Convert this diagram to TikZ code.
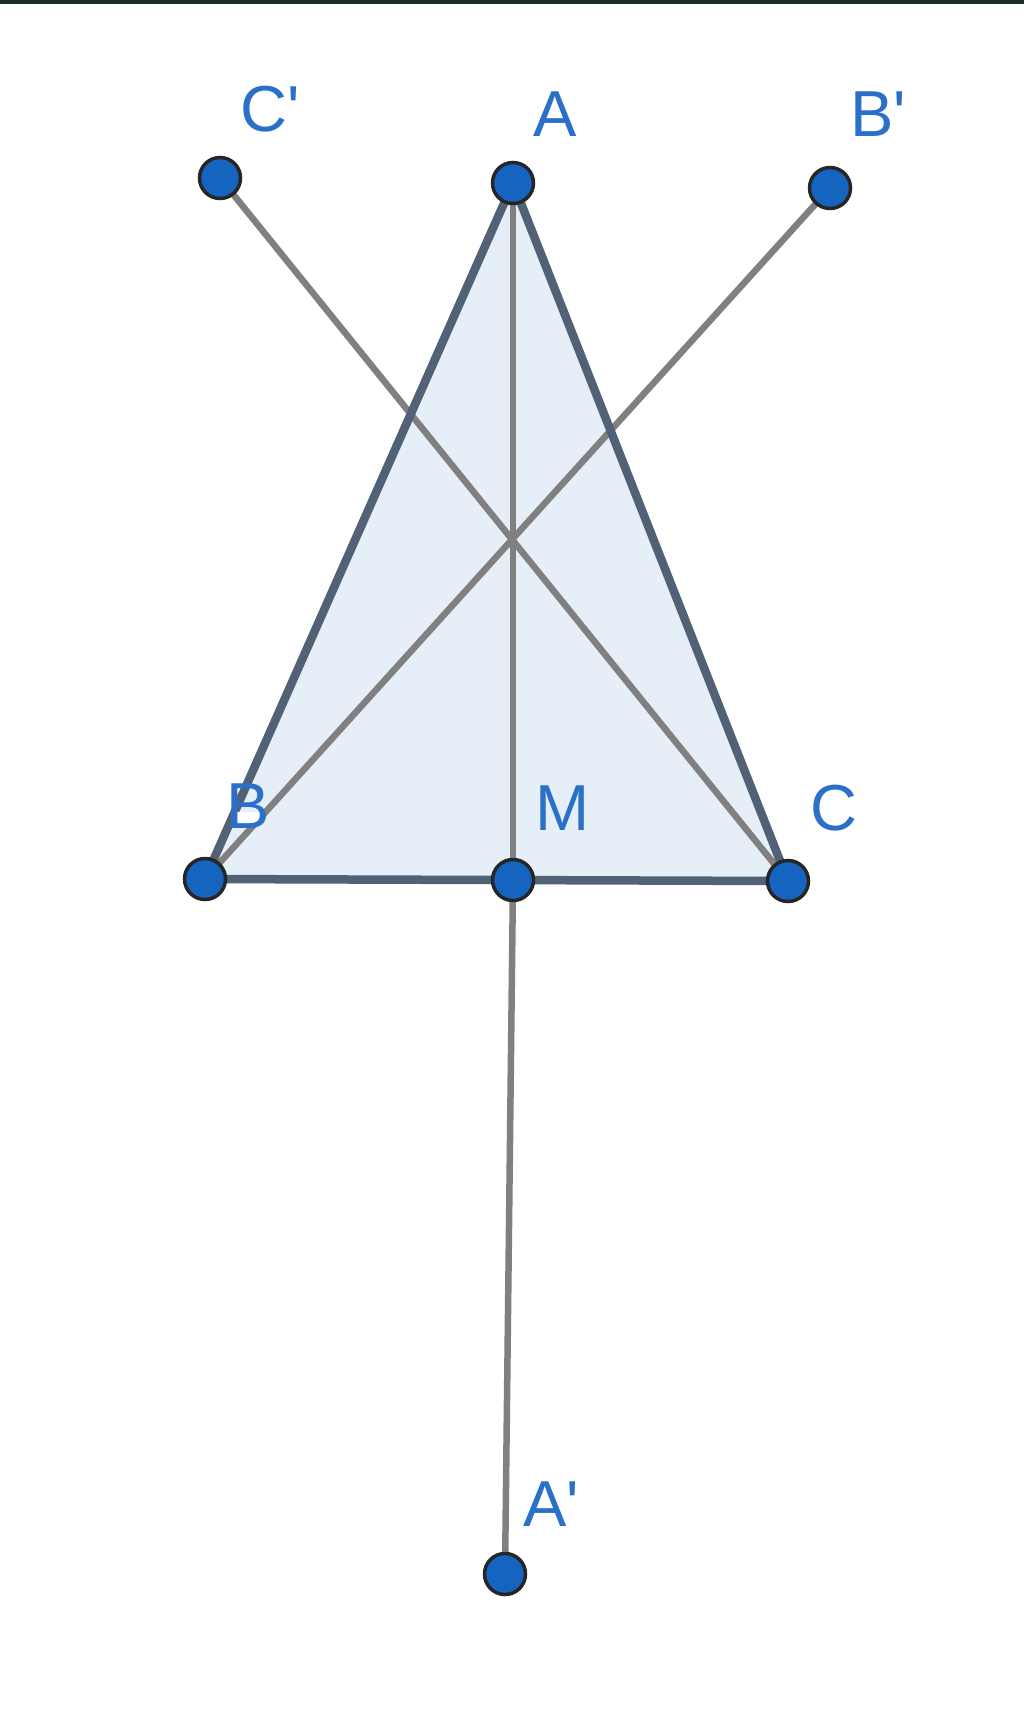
\documentclass[tikz,border=0pt]{standalone}
\usepackage{fontspec}
\newfontfamily\lblfont{Liberation Sans}
\definecolor{ptblue}{RGB}{21,101,192}
\definecolor{lblblue}{RGB}{42,112,200}
\definecolor{edgecol}{RGB}{82,98,118}
\definecolor{fillcol}{RGB}{230,238,248}
\definecolor{graycol}{RGB}{128,128,128}
\definecolor{topband}{RGB}{34,46,36}
\begin{document}
\begin{tikzpicture}[x=1pt,y=-1pt,
  pt/.style={circle,fill=ptblue,draw=black!85,line width=3.5pt,minimum size=41pt,inner sep=0pt},
  lbl/.style={text=lblblue,font=\lblfont\fontsize{65}{70}\selectfont,inner sep=0pt,anchor=base west},
  edge/.style={draw=edgecol,line width=8.5pt,line cap=round},
  aux/.style={draw=graycol,line width=6.5pt}]
\fill[white] (0,0) rectangle (1024,1736);
\useasboundingbox (0,0) rectangle (1024,1736);
\fill[topband] (0,0) rectangle (1024,4);
% point coordinates
\coordinate (a) at (513,183);
\coordinate (b) at (205,879);
\coordinate (c) at (788,881);
\coordinate (m) at (513,880);
\coordinate (ap) at (505,1574);
\coordinate (bp) at (830,188);
\coordinate (cp) at (220,178);
% triangle fill
\fill[fillcol] (a) -- (b) -- (c) -- cycle;
% auxiliary gray lines
\draw[aux] (a) -- (m);
\draw[aux] (m) -- (ap);
\draw[aux] (b) -- (bp);
\draw[aux] (c) -- (cp);
% triangle edges
\draw[edge] (a) -- (b);
\draw[edge] (b) -- (c);
\draw[edge] (c) -- (a);
% white halo area behind label B
\fill[white] (232,812) rectangle (262,824);
% points
\node[pt] (A) at (a) {};
\node[pt] (B) at (b) {};
\node[pt] (C) at (c) {};
\node[pt] (M) at (m) {};
\node[pt] (Ap) at (ap) {};
\node[pt] (Bp) at (bp) {};
\node[pt] (Cp) at (cp) {};
% labels
\node[lbl] (lA) at (533,137) {A};
\node[lbl] (lB) at (226,828) {B};
\node[lbl] (lC) at (810,830) {C};
\node[lbl] (lM) at (535,830) {M};
\node[lbl] (lAp) at (523,1526) {A'};
\node[lbl] (lBp) at (850,137) {B'};
\node[lbl] (lCp) at (240,132) {C'};
\end{tikzpicture}
\end{document}
